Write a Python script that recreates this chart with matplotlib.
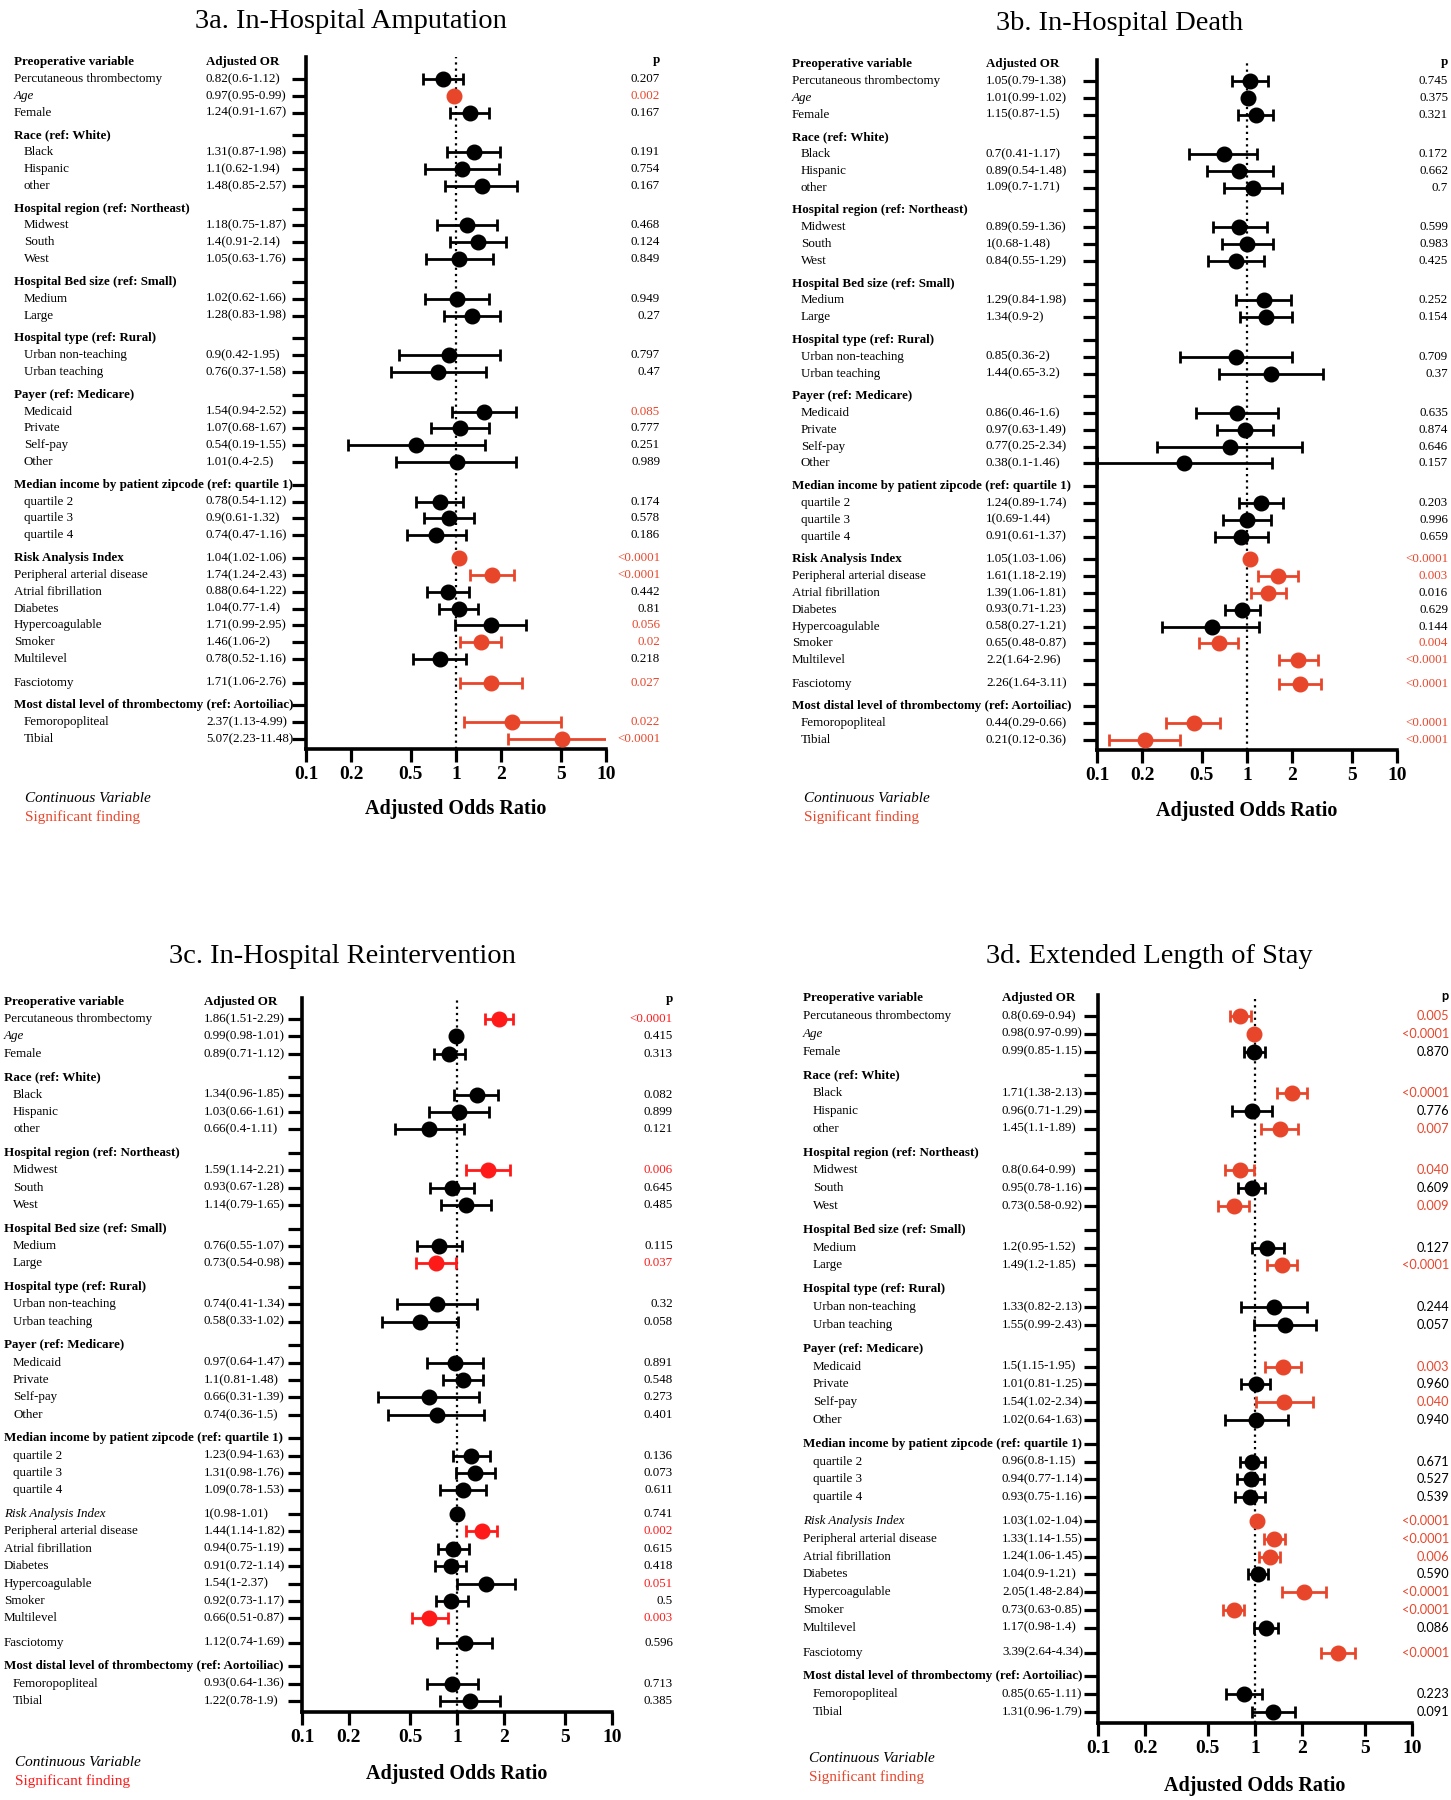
import numpy as np
import matplotlib.pyplot as plt
import matplotlib.transforms as mtransforms

plt.rcParams['font.family'] = ['Liberation Serif', 'DejaVu Serif']

W, H = 1451, 1800

# rows shared by the four forest plots: (label, kind)
rows = [
    ("Percutaneous thrombectomy", "item"),
    ("Age", "cont"),
    ("Female", "item"),
    ("Race (ref: White)", "head"),
    ("Black", "sub"), ("Hispanic", "sub"), ("other", "sub"),
    ("Hospital region (ref: Northeast)", "head"),
    ("Midwest", "sub"), ("South", "sub"), ("West", "sub"),
    ("Hospital Bed size (ref: Small)", "head"),
    ("Medium", "sub"), ("Large", "sub"),
    ("Hospital type (ref: Rural)", "head"),
    ("Urban non-teaching", "sub"), ("Urban teaching", "sub"),
    ("Payer (ref: Medicare)", "head"),
    ("Medicaid", "sub"), ("Private", "sub"), ("Self-pay", "sub"), ("Other", "sub"),
    ("Median income by patient zipcode (ref: quartile 1)", "head"),
    ("quartile 2", "sub"), ("quartile 3", "sub"), ("quartile 4", "sub"),
    ("Risk Analysis Index", "rai"),
    ("Peripheral arterial disease", "item"), ("Atrial fibrillation", "item"),
    ("Diabetes", "item"), ("Hypercoagulable", "item"), ("Smoker", "item"),
    ("Multilevel", "item"),
    ("Fasciotomy", "fasc"),
    ("Most distal level of thrombectomy (ref: Aortoiliac)", "head"),
    ("Femoropopliteal", "sub"), ("Tibial", "sub"),
]

# 3a In-hospital amputation
amp_or = [0.82, 0.97, 1.24, 1.31, 1.1, 1.48, 1.18, 1.4, 1.05, 1.02, 1.28, 0.9, 0.76,
          1.54, 1.07, 0.54, 1.01, 0.78, 0.9, 0.74, 1.04, 1.74, 0.88, 1.04, 1.71, 1.46, 0.78,
          1.71, 2.37, 5.07]
amp_lo = [0.6, 0.95, 0.91, 0.87, 0.62, 0.85, 0.75, 0.91, 0.63, 0.62, 0.83, 0.42, 0.37,
          0.94, 0.68, 0.19, 0.4, 0.54, 0.61, 0.47, 1.02, 1.24, 0.64, 0.77, 0.99, 1.06, 0.52,
          1.06, 1.13, 2.23]
amp_hi = [1.12, 0.99, 1.67, 1.98, 1.94, 2.57, 1.87, 2.14, 1.76, 1.66, 1.98, 1.95, 1.58,
          2.52, 1.67, 1.55, 2.5, 1.12, 1.32, 1.16, 1.06, 2.43, 1.22, 1.4, 2.95, 2, 1.16,
          2.76, 4.99, 11.48]
amp_p = ["0.207", "0.002", "0.167", "0.191", "0.754", "0.167", "0.468", "0.124", "0.849",
         "0.949", "0.27", "0.797", "0.47", "0.085", "0.777", "0.251", "0.989", "0.174",
         "0.578", "0.186", "<0.0001", "<0.0001", "0.442", "0.81", "0.056", "0.02", "0.218",
         "0.027", "0.022", "<0.0001"]
amp_red_p = ["Age", "Medicaid", "Risk Analysis Index", "Peripheral arterial disease",
             "Hypercoagulable", "Smoker", "Fasciotomy", "Femoropopliteal", "Tibial"]

# 3b In-hospital death
death_or = [1.05, 1.01, 1.15, 0.7, 0.89, 1.09, 0.89, 1, 0.84, 1.29, 1.34, 0.85, 1.44,
            0.86, 0.97, 0.77, 0.38, 1.24, 1, 0.91, 1.05, 1.61, 1.39, 0.93, 0.58, 0.65, 2.2,
            2.26, 0.44, 0.21]
death_lo = [0.79, 0.99, 0.87, 0.41, 0.54, 0.7, 0.59, 0.68, 0.55, 0.84, 0.9, 0.36, 0.65,
            0.46, 0.63, 0.25, 0.1, 0.89, 0.69, 0.61, 1.03, 1.18, 1.06, 0.71, 0.27, 0.48, 1.64,
            1.64, 0.29, 0.12]
death_hi = [1.38, 1.02, 1.5, 1.17, 1.48, 1.71, 1.36, 1.48, 1.29, 1.98, 2, 2, 3.2,
            1.6, 1.49, 2.34, 1.46, 1.74, 1.44, 1.37, 1.06, 2.19, 1.81, 1.23, 1.21, 0.87, 2.96,
            3.11, 0.66, 0.36]
death_p = ["0.745", "0.375", "0.321", "0.172", "0.662", "0.7", "0.599", "0.983", "0.425",
           "0.252", "0.154", "0.709", "0.37", "0.635", "0.874", "0.646", "0.157", "0.203",
           "0.996", "0.659", "<0.0001", "0.003", "0.016", "0.629", "0.144", "0.004", "<0.0001",
           "<0.0001", "<0.0001", "<0.0001"]
death_red_p = ["Risk Analysis Index", "Peripheral arterial disease", "Smoker", "Multilevel",
               "Fasciotomy", "Femoropopliteal", "Tibial"]

# 3c In-hospital reintervention
reint_or = [1.86, 0.99, 0.89, 1.34, 1.03, 0.66, 1.59, 0.93, 1.14, 0.76, 0.73, 0.74, 0.58,
            0.97, 1.1, 0.66, 0.74, 1.23, 1.31, 1.09, 1, 1.44, 0.94, 0.91, 1.54, 0.92, 0.66,
            1.12, 0.93, 1.22]
reint_lo = [1.51, 0.98, 0.71, 0.96, 0.66, 0.4, 1.14, 0.67, 0.79, 0.55, 0.54, 0.41, 0.33,
            0.64, 0.81, 0.31, 0.36, 0.94, 0.98, 0.78, 0.98, 1.14, 0.75, 0.72, 1, 0.73, 0.51,
            0.74, 0.64, 0.78]
reint_hi = [2.29, 1.01, 1.12, 1.85, 1.61, 1.11, 2.21, 1.28, 1.65, 1.07, 0.98, 1.34, 1.02,
            1.47, 1.48, 1.39, 1.5, 1.63, 1.76, 1.53, 1.01, 1.82, 1.19, 1.14, 2.37, 1.17, 0.87,
            1.69, 1.36, 1.9]
reint_p = ["<0.0001", "0.415", "0.313", "0.082", "0.899", "0.121", "0.006", "0.645", "0.485",
           "0.115", "0.037", "0.32", "0.058", "0.891", "0.548", "0.273", "0.401", "0.136",
           "0.073", "0.611", "0.741", "0.002", "0.615", "0.418", "0.051", "0.5", "0.003",
           "0.596", "0.713", "0.385"]
reint_red_p = ["Percutaneous thrombectomy", "Midwest", "Large", "Peripheral arterial disease",
               "Hypercoagulable", "Multilevel"]

# 3d Extended length of stay
los_or = [0.8, 0.98, 0.99, 1.71, 0.96, 1.45, 0.8, 0.95, 0.73, 1.2, 1.49, 1.33, 1.55,
          1.5, 1.01, 1.54, 1.02, 0.96, 0.94, 0.93, 1.03, 1.33, 1.24, 1.04, 2.05, 0.73, 1.17,
          3.39, 0.85, 1.31]
los_lo = [0.69, 0.97, 0.85, 1.38, 0.71, 1.1, 0.64, 0.78, 0.58, 0.95, 1.2, 0.82, 0.99,
          1.15, 0.81, 1.02, 0.64, 0.8, 0.77, 0.75, 1.02, 1.14, 1.06, 0.9, 1.48, 0.63, 0.98,
          2.64, 0.65, 0.96]
los_hi = [0.94, 0.99, 1.15, 2.13, 1.29, 1.89, 0.99, 1.16, 0.92, 1.52, 1.85, 2.13, 2.43,
          1.95, 1.25, 2.34, 1.63, 1.15, 1.14, 1.16, 1.04, 1.55, 1.45, 1.21, 2.84, 0.85, 1.4,
          4.34, 1.11, 1.79]
los_p = ["0.005", "<0.0001", "0.870", "<0.0001", "0.776", "0.007", "0.040", "0.609", "0.009",
         "0.127", "<0.0001", "0.244", "0.057", "0.003", "0.960", "0.040", "0.940", "0.671",
         "0.527", "0.539", "<0.0001", "<0.0001", "0.006", "0.590", "<0.0001", "<0.0001",
         "0.086", "<0.0001", "0.223", "0.091"]
los_red_p = ["Percutaneous thrombectomy", "Age", "Black", "other", "Midwest", "West", "Large",
             "Medicaid", "Self-pay", "Risk Analysis Index", "Peripheral arterial disease",
             "Atrial fibrillation", "Hypercoagulable", "Smoker", "Fasciotomy"]

xticks = [0.1, 0.2, 0.5, 1, 2, 5, 10]
xtick_labels = ["0.1", "0.2", "0.5", "1", "2", "5", "10"]

ORANGE = '#E8462B'
PURE_RED = '#FF1A1A'

# row positions in "row units": extra space before group headers
pos = []
u = 0.0
for i, (lab, kind) in enumerate(rows):
    if i > 0:
        if kind in ('head', 'rai'):
            u += 1.35
        elif kind == 'fasc':
            u += 1.4
        else:
            u += 1.0
    pos.append(u)

fig = plt.figure(figsize=(W / 100, H / 100), dpi=100)


def draw_panel(title, odds, lo, hi, p, red_p, red, rai_style, pfont,
               ax_x, ax_y, rows_y, lab_x, sub_x, or_x, p_x, title_xy, leg_xy, xlab_y):
    x0, x1 = ax_x
    ytop, ybot = ax_y
    ax = fig.add_axes([x0 / W, 1 - ybot / H, (x1 - x0) / W, (ybot - ytop) / H])
    scale = (rows_y[1] - rows_y[0]) / pos[-1]
    ax.set_xscale('log')
    ax.set_xlim(0.1, 10)
    ax.set_ylim((ybot - rows_y[0]) / scale, (ytop - rows_y[0]) / scale)

    tr = mtransforms.blended_transform_factory(fig.transFigure, ax.transData)
    fs = 9.4
    pfs = fs if pfont == 'Liberation Serif' else 9.2

    # column headers
    hy = -1.0
    ax.text(lab_x / W, hy, "Preoperative variable", transform=tr, fontsize=fs,
            fontweight='bold', va='center', ha='left')
    ax.text(or_x / W, hy, "Adjusted OR", transform=tr, fontsize=fs,
            fontweight='bold', va='center', ha='left')
    ax.text(p_x / W, hy - 0.15, "p", transform=tr, fontsize=pfs, fontweight='bold',
            va='center', ha='right', family=pfont)

    k = 0
    for (lab, kind), y in zip(rows, pos):
        if kind == 'head':
            ax.text(lab_x / W, y, lab, transform=tr, fontsize=fs, fontweight='bold',
                    va='center', ha='left')
            continue
        style = 'normal'
        weight = 'normal'
        if kind == 'cont':
            style = 'italic'
        if kind == 'rai':
            if rai_style == 'bold':
                weight = 'bold'
            else:
                style = 'italic'
        tx = sub_x if kind == 'sub' else lab_x
        ax.text(tx / W, y, lab, transform=tr, fontsize=fs, fontstyle=style,
                fontweight=weight, va='center', ha='left')

        o, l, h = odds[k], lo[k], hi[k]
        ax.text(or_x / W, y, f"{o:g}({l:g}-{h:g})", transform=tr, fontsize=fs,
                va='center', ha='left')
        pc = red if lab in red_p else 'black'
        ax.text(p_x / W, y, p[k], transform=tr, fontsize=pfs,
                va='center', ha='right', color=pc, family=pfont)

        c = red if (l > 1 or h < 1) else 'black'
        ax.errorbar(o, y, xerr=[[o - l], [h - o]], fmt='o', color=c, ms=10.5,
                    elinewidth=2.0, capsize=4.5, capthick=2.0, zorder=3)
        k += 1

    ax.axvline(1, color='black', ls=(0, (1, 1.8)), lw=1.6, zorder=1)

    ax.set_yticks(pos)
    ax.set_yticklabels([])
    ax.tick_params(axis='y', length=10, width=2.3, direction='out')
    ax.set_xticks(xticks)
    ax.set_xticklabels(xtick_labels, fontweight='bold', fontsize=14)
    ax.minorticks_off()
    ax.tick_params(axis='x', length=9, width=2.3, direction='out', pad=3)
    for s in ['top', 'right']:
        ax.spines[s].set_visible(False)
    for s in ['left', 'bottom']:
        ax.spines[s].set_linewidth(2.6)
    ax.patch.set_alpha(0)

    fig.text((x0 + x1) / 2 / W, 1 - xlab_y / H, "Adjusted Odds Ratio", fontsize=14.5,
             fontweight='bold', ha='center', va='center')
    fig.text(title_xy[0] / W, 1 - title_xy[1] / H, title, fontsize=20.5,
             ha='center', va='center')
    fig.text(leg_xy[0] / W, 1 - leg_xy[1] / H, "Continuous Variable", fontsize=11,
             fontstyle='italic', ha='left', va='center')
    fig.text(leg_xy[0] / W, 1 - (leg_xy[1] + 19) / H, "Significant finding", fontsize=11,
             color=red, ha='left', va='center')


draw_panel("3a. In-Hospital Amputation", amp_or, amp_lo, amp_hi, amp_p, amp_red_p,
           ORANGE, 'bold', 'Liberation Serif',
           ax_x=(306, 606), ax_y=(57, 749), rows_y=(79, 739), lab_x=14, sub_x=24,
           or_x=206, p_x=660, title_xy=(351, 22), leg_xy=(25, 798), xlab_y=809)

draw_panel("3b. In-Hospital Death", death_or, death_lo, death_hi, death_p, death_red_p,
           ORANGE, 'bold', 'Liberation Serif',
           ax_x=(1097, 1397), ax_y=(60, 750), rows_y=(81, 740), lab_x=792, sub_x=801,
           or_x=986, p_x=1448, title_xy=(1120, 23), leg_xy=(804, 798), xlab_y=811)

draw_panel("3c. In-Hospital Reintervention", reint_or, reint_lo, reint_hi, reint_p,
           reint_red_p, PURE_RED, 'italic', 'Liberation Serif',
           ax_x=(302, 612), ax_y=(998, 1712), rows_y=(1019, 1701), lab_x=4, sub_x=13,
           or_x=204, p_x=673, title_xy=(342, 957), leg_xy=(15, 1762), xlab_y=1774)

draw_panel("3d. Extended Length of Stay", los_or, los_lo, los_hi, los_p, los_red_p,
           ORANGE, 'italic', 'Lato',
           ax_x=(1098, 1412), ax_y=(995, 1723), rows_y=(1016, 1712), lab_x=803, sub_x=813,
           or_x=1002, p_x=1449, title_xy=(1149, 957), leg_xy=(809, 1758), xlab_y=1786)

fig.savefig("out.png", dpi=100, facecolor='white')
